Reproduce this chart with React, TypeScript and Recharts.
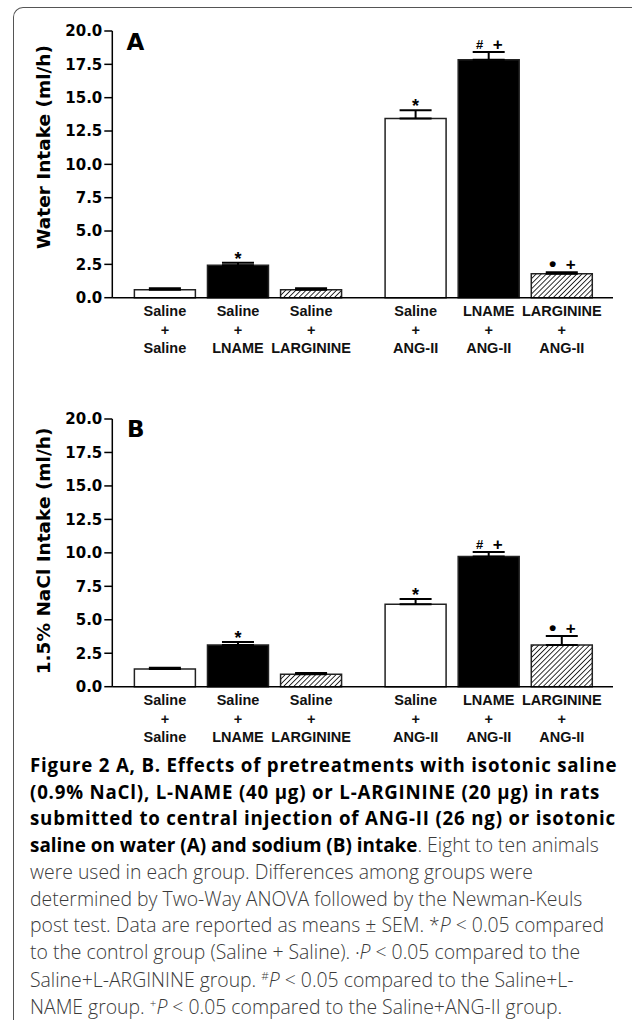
import React from "react";
import { BarChart, Bar, XAxis, YAxis, ErrorBar, Cell, LabelList } from "recharts";

// group labels: pretreatment (top line) + treatment (bottom line)
const pretreatments = ["Saline", "Saline", "Saline", "Saline", "LNAME", "LARGININE"];
const treatments = ["Saline", "LNAME", "LARGININE", "ANG-II", "ANG-II", "ANG-II"];

// A: water intake (ml/h), mean and SEM
const waterIntake = [0.6, 2.43, 0.6, 13.43, 17.85, 1.8];
const waterSem = [0.1, 0.2, 0.1, 0.62, 0.58, 0.1];
const waterMarks = ["", "*", "", "*", "# +", "• +"];

// B: 1.5% NaCl intake (ml/h), mean and SEM
const sodiumIntake = [1.32, 3.12, 0.93, 6.16, 9.73, 3.12];
const sodiumSem = [0.1, 0.22, 0.09, 0.39, 0.34, 0.67];
const sodiumMarks = ["", "*", "", "*", "# +", "• +"];

const yTicks = [0, 2.5, 5, 7.5, 10, 12.5, 15, 17.5, 20];

const barFills = ["#ffffff", "#000000", "url(#hatch)", "#ffffff", "#000000", "url(#hatch)"];

// the ANG-II group sits a little further to the right
const xPos = (i: number) => i + 1 + (i >= 3 ? 0.43 : 0);
const xTicks = pretreatments.map((_, i) => xPos(i));

const axisFont = "'DejaVu Sans', Verdana, sans-serif";
const labelFont = "'Liberation Sans', Arial, sans-serif";

const markStyle: Record<string, { size: number; dy: number }> = {
  "*": { size: 18, dy: 2 },
  "#": { size: 13, dy: -3 },
  "+": { size: 17, dy: -2 },
  "•": { size: 21, dy: -1 },
};

type Row = { x: number; value: number; sem: number; err: number[]; mark: string };

const GroupTick = (props: any) => {
  const { x, y, payload } = props;
  const i = xTicks.findIndex((t) => Math.abs(t - payload.value) < 1e-6);
  if (i < 0) return null;
  return (
    <g fontFamily={labelFont} fontWeight="bold" fontSize={14.5} fill="#111" textAnchor="middle">
      <text x={x} y={y + 18.5}>{pretreatments[i]}</text>
      <text x={x} y={y + 37}>+</text>
      <text x={x} y={y + 55.5}>{treatments[i]}</text>
    </g>
  );
};

function makeMarkLabel(rows: Row[]) {
  return (props: any) => {
    const vb = props.viewBox && props.viewBox.width != null ? props.viewBox : props;
    const { x, y, width, height } = vb;
    const row = rows[props.index];
    if (!row || !row.mark) return null;
    const ppu = height / row.value;
    const capY = y - row.sem * ppu;
    const cx = x + width / 2;
    const parts = row.mark.split(" ");
    return (
      <g>
        {parts.map((p, k) => {
          const s = markStyle[p] || { size: 16, dy: 0 };
          const off = parts.length > 1 ? (k === 0 ? -9 : 9) : 0;
          return (
            <text
              key={k}
              x={cx + off}
              y={capY + s.dy}
              textAnchor="middle"
              fontFamily={labelFont}
              fontWeight="bold"
              fontSize={s.size}
              fill="#000"
            >
              {p}
            </text>
          );
        })}
      </g>
    );
  };
}

function Panel(props: {
  means: number[];
  sem: number[];
  marks: string[];
  top: number;
  marginTop: number;
}) {
  const rows: Row[] = props.means.map((v, i) => ({
    x: xPos(i),
    value: v,
    sem: props.sem[i],
    err: [0, props.sem[i]],
    mark: props.marks[i],
  }));
  return (
    <div style={{ position: "absolute", left: 0, top: props.top }}>
      <BarChart
        width={632}
        height={370}
        data={rows}
        margin={{ top: props.marginTop, right: 19, bottom: 12.3, left: 52.3 }}
      >
        <XAxis
          type="number"
          dataKey="x"
          domain={[0.28, 7.13]}
          allowDataOverflow
          ticks={xTicks}
          interval={0}
          tick={<GroupTick />}
          tickLine={false}
          tickSize={0}
          tickMargin={0}
          height={60}
          axisLine={{ stroke: "#000", strokeWidth: 1.5 }}
        />
        <YAxis
          domain={[0, 20]}
          ticks={yTicks}
          interval={0}
          width={60}
          tickFormatter={(v: number) => v.toFixed(1)}
          tickSize={8}
          tickMargin={2}
          tick={{ fontFamily: axisFont, fontWeight: "bold", fontSize: 15, fill: "#000" }}
          tickLine={{ stroke: "#000", strokeWidth: 1.5 }}
          axisLine={{ stroke: "#000", strokeWidth: 1.5 }}
        />
        <Bar dataKey="value" barSize={61} stroke="#222" strokeWidth={1.5} isAnimationActive={false}>
          {rows.map((_, i) => (
            <Cell key={i} fill={barFills[i]} />
          ))}
          <ErrorBar dataKey="err" width={16} stroke="#000" strokeWidth={2} />
          <LabelList dataKey="value" content={makeMarkLabel(rows)} />
        </Bar>
      </BarChart>
    </div>
  );
}

const captionBold: React.CSSProperties = { fontWeight: 700, color: "#000", fontSize: 18.9 };
const spreadBold: React.CSSProperties = { ...captionBold, fontSize: 18.7, letterSpacing: 0.8 };
const smallSup: React.CSSProperties = { fontSize: "0.6em", lineHeight: 0 };

export default function App() {
  return (
    <div style={{ position: "absolute", left: 0, top: 0, width: 632, height: 1023, background: "#fff" }}>
      <div
        style={{
          position: "absolute",
          left: 13,
          top: 7,
          width: 640,
          height: 1013,
          borderLeft: "1px solid #555",
          borderTop: "1px solid #555",
          borderTopLeftRadius: 10,
          boxSizing: "border-box",
        }}
      />
      <svg width={0} height={0} style={{ position: "absolute" }}>
        <defs>
          <pattern id="hatch" patternUnits="userSpaceOnUse" width={3.6} height={3.6} patternTransform="rotate(45)">
            <rect width={3.6} height={3.6} fill="#fff" />
            <line x1={0} y1={0} x2={0} y2={3.6} stroke="#000" strokeWidth={1.6} />
          </pattern>
        </defs>
      </svg>
      <Panel means={waterIntake} sem={waterSem} marks={waterMarks} top={0} marginTop={31} />
      <Panel means={sodiumIntake} sem={sodiumSem} marks={sodiumMarks} top={389} marginTop={30} />
      <svg width={632} height={1023} style={{ position: "absolute", left: 0, top: 0, pointerEvents: "none" }}>
        <text x={126.5} y={50} fontFamily={axisFont} fontWeight="bold" fontSize={23}>A</text>
        <text x={127} y={437} fontFamily={axisFont} fontWeight="bold" fontSize={23}>B</text>
        <text
          x={43}
          y={147}
          transform="rotate(-90, 43, 147)"
          textAnchor="middle"
          dominantBaseline="central"
          fontFamily={axisFont}
          fontWeight="bold"
          fontSize={18.5}
        >
          Water Intake (ml/h)
        </text>
        <text
          x={43}
          y={551}
          transform="rotate(-90, 43, 551)"
          textAnchor="middle"
          dominantBaseline="central"
          fontFamily={axisFont}
          fontWeight="bold"
          fontSize={18.5}
        >
          1.5% NaCl Intake (ml/h)
        </text>
      </svg>
      <div
        style={{
          position: "absolute",
          left: 30,
          top: 752,
          fontFamily: "'Open Sans', sans-serif",
          fontSize: 19.4,
          fontWeight: 300,
          lineHeight: "26.7px",
          whiteSpace: "nowrap",
          color: "#3a3a3a",
        }}
      >
        <div style={spreadBold}>Figure 2 A, B. Effects of pretreatments with isotonic saline</div>
        <div style={spreadBold}>(0.9% NaCl), L-NAME (40 µg) or L-ARGININE (20 µg) in rats</div>
        <div style={spreadBold}>submitted to central injection of ANG-II (26 ng) or isotonic</div>
        <div>
          <span style={captionBold}>saline on water (A) and sodium (B) intake</span>. Eight to ten animals
        </div>
        <div>were used in each group. Differences among groups were</div>
        <div>determined by Two-Way ANOVA followed by the Newman-Keuls</div>
        <div>
          post test. Data are reported as means ± SEM. *<i>P</i> &lt; 0.05 compared
        </div>
        <div>
          to the control group (Saline + Saline). <span style={{ fontSize: "0.6em", verticalAlign: "middle" }}>•</span>
          <i>P</i> &lt; 0.05 compared to the
        </div>
        <div>
          Saline+L-ARGININE group. <sup style={smallSup}>#</sup>
          <i>P</i> &lt; 0.05 compared to the Saline+L-
        </div>
        <div>
          NAME group. <sup style={smallSup}>+</sup>
          <i>P</i> &lt; 0.05 compared to the Saline+ANG-II group.
        </div>
      </div>
    </div>
  );
}
